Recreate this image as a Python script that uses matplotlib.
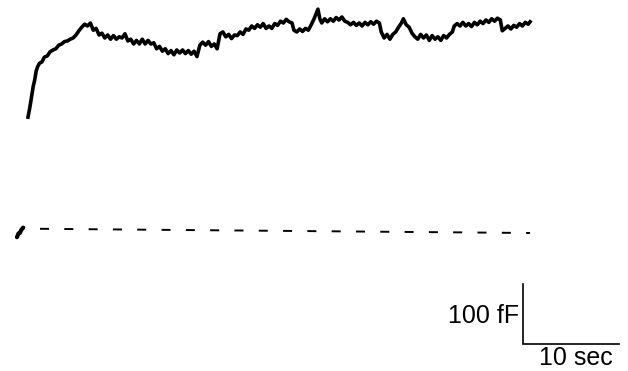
import matplotlib
matplotlib.use("Agg")
import matplotlib.pyplot as plt
import numpy as np

plt.rcParams['font.family'] = ['Liberation Sans', 'DejaVu Sans']
plt.rcParams['lines.scale_dashes'] = False

# Capacitance trace (time in s, capacitance in fF relative to baseline)
trace_t = [0.0, 0.2, 0.4, 0.55, 0.7, 0.85, 1.0, 1.2, 1.45, 1.7, 2.0, 2.3, 2.6, 2.9, 3.2, 3.5, 3.8, 4.1,
           4.4, 4.7, 5.0, 5.3, 5.6, 5.9, 6.2, 6.5, 6.8, 7.1, 7.4, 7.7, 8.0, 8.3, 8.6, 8.9, 9.2, 9.5,
           9.8, 10.1, 10.4, 10.7, 11.0, 11.3, 11.6, 11.9, 12.2, 12.5, 12.8, 13.1, 13.4, 13.7, 14.0,
           14.3, 14.6, 14.9, 15.2, 15.5, 15.8, 16.1, 16.4, 16.7, 17.0, 17.3, 17.6, 17.9, 18.2, 18.5,
           18.8, 19.1, 19.4, 19.7, 20.0, 20.3, 20.6, 20.9, 21.2, 21.5, 21.8, 22.1, 22.4, 22.7, 23.0,
           23.3, 23.6, 23.9, 24.2, 24.5, 24.8, 25.1, 25.4, 25.7, 26.0, 26.3, 26.6, 26.9, 27.2, 27.5,
           27.7, 28.0, 28.3, 28.6, 28.9, 29.2, 29.5, 29.8, 30.0, 30.2, 30.4, 30.6, 30.9, 31.2, 31.5,
           31.8, 32.1, 32.4, 32.7, 33.0, 33.3, 33.6, 33.9, 34.2, 34.5, 34.8, 35.1, 35.4, 35.7, 36.0,
           36.3, 36.6, 36.8, 37.1, 37.4, 37.7, 38.0, 38.3, 38.6, 38.9, 39.1, 39.4, 39.7, 40.0, 40.3,
           40.6, 40.9, 41.2, 41.5, 41.8, 42.1, 42.4, 42.7, 43.0, 43.3, 43.6, 43.9, 44.2, 44.4, 44.7,
           45.0, 45.3, 45.6, 45.9, 46.2, 46.5, 46.8, 47.1, 47.4, 47.7, 48.0, 48.3, 48.6, 48.9, 49.2,
           49.4, 49.7, 50.0, 50.3, 50.6, 50.9, 51.2, 51.5, 51.8, 52.1, 52.3]
trace_c = [188, 205, 225, 240, 250, 265, 272, 278, 280, 288, 290, 297, 300, 302, 308, 310, 314, 315,
           318, 320, 325, 332, 338, 343, 340, 345, 333, 336, 325, 328, 320, 325, 318, 324, 318, 322,
           320, 327, 315, 318, 310, 316, 310, 318, 310, 316, 310, 312, 302, 306, 298,
           302, 294, 299, 292, 300, 295, 300, 294, 299, 293, 298, 289, 308, 313, 308,
           314, 306, 310, 302, 327, 330, 322, 326, 319, 325, 324, 330, 326, 335, 333,
           340, 336, 342, 338, 344, 336, 340, 336, 344, 341, 348, 345, 351, 347, 345,
           333, 330, 335, 331, 336, 333, 342, 352, 360, 368, 352, 345, 352, 347, 352,
           348, 354, 350, 355, 348, 346, 342, 346, 341, 345, 340, 346, 342, 347, 343,
           348, 345, 330, 320, 326, 318, 326, 330, 338, 345, 352, 342, 338, 328, 322,
           318, 326, 320, 325, 316, 324, 318, 322, 316, 324, 320, 326, 330, 340, 344,
           340, 346, 340, 344, 339, 346, 342, 348, 344, 350, 346, 352, 348, 353, 350,
           332, 336, 340, 335, 341, 338, 344, 340, 346, 343, 347]

# Short pre-stimulus segment
pre_t = [-1.15, -1.0, -0.85, -0.7, -0.5]
pre_c = [-12, -6, -5, 0, 4]

# Baseline (dashed)
base_t = [1.25, 52.3]
base_c = [2, -5]

# Scale bar: 10 sec, 100 fF
bar_t0 = 51.56
bar_c0 = -190
bar_dt = 10
bar_dc = 100

fig = plt.figure(figsize=(6.28, 3.71), dpi=100)
ax = fig.add_axes([0, 0, 1, 1])
ax.set_xlim(-2.917, 62.5)
ax.set_ylim(-235, 383.3)
ax.axis('off')

ax.plot(trace_t, trace_c, color='black', lw=2.6, solid_joinstyle='round')
ax.plot(pre_t, pre_c, color='black', lw=3.0, solid_capstyle='round')
ax.plot(base_t, base_c, color='black', lw=1.4, dashes=(6.5, 11.0))

ax.plot([bar_t0, bar_t0, bar_t0 + bar_dt], [bar_c0 + bar_dc, bar_c0, bar_c0],
        color='black', lw=1.2, solid_joinstyle='miter')
ax.text(bar_t0 - 0.4, -155, '100 fF', ha='right', va='baseline', fontsize=18)
ax.text(57.08, -225, '10 sec', ha='center', va='baseline', fontsize=18)

fig.savefig('out.png', dpi=100)
